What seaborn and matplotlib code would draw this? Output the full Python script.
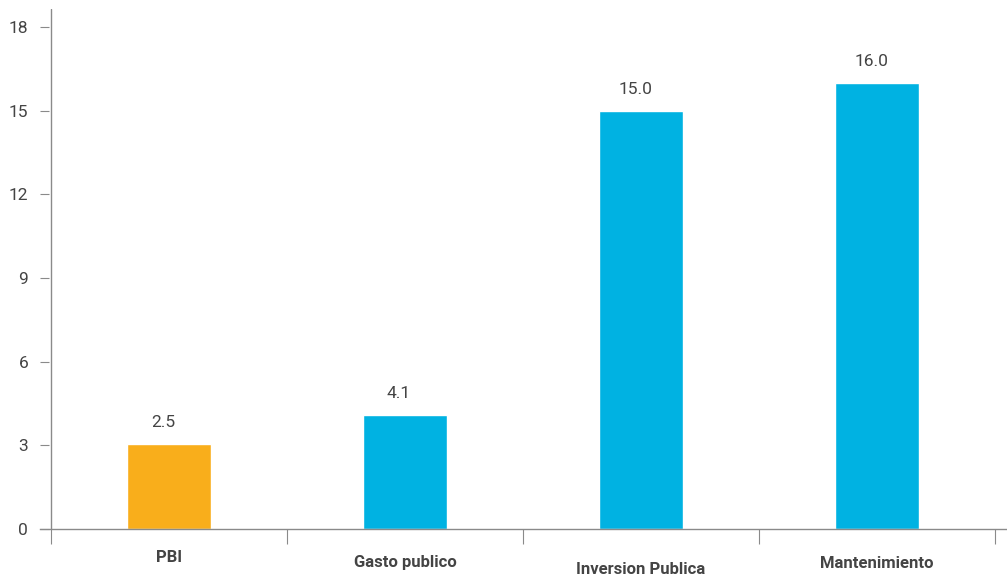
import matplotlib
matplotlib.use("Agg")
import matplotlib.pyplot as plt
import seaborn as sns
import pandas as pd

# data
categories = ["PBI", "Gasto publico", "Inversion Publica", "Mantenimiento"]
bar_values = [3.05, 4.1, 15.0, 16.0]
value_labels = ["2.5", "4.1", "15.0", "16.0"]
y_ticks = [0, 3, 6, 9, 12, 15, 18]

colors = ["#F9AE1B", "#00B2E2", "#00B2E2", "#00B2E2"]
text_color = "#444444"
axis_color = "#8a8a8a"

sns.set_theme(style="white")
plt.rcParams["font.family"] = ["Roboto", "DejaVu Sans"]

df = pd.DataFrame({"cat": categories, "val": bar_values})

fig = plt.figure(figsize=(10.07, 5.81), dpi=100)
ax = fig.add_axes([40 / 1007, 52 / 581, 967 / 1007, 520 / 581])

sns.barplot(data=df, x="cat", y="val", hue="cat", palette=colors,
            width=0.356, legend=False, ax=ax, saturation=1)

ax.set_xlim(-0.5 - 11 / 236, 3.5 + 12 / 236)
ax.set_ylim(0, 18.65)
ax.set_xlabel("")
ax.set_ylabel("")

for s in ["top", "right", "left"]:
    ax.spines[s].set_visible(False)
ax.spines["bottom"].set_color(axis_color)
ax.spines["bottom"].set_linewidth(1)

# y axis drawn at the first band edge
ax.axvline(-0.5, color=axis_color, lw=1, zorder=3)

ax.set_yticks(y_ticks)
ax.set_yticklabels([str(t) for t in y_ticks])
ax.tick_params(axis="y", direction="in", length=6.5, width=0.8,
               color=axis_color, pad=8.5, labelsize=12.5, labelcolor=text_color, left=True)

# x ticks on band edges, labels drawn as text
ax.set_xticks([i - 0.5 for i in range(len(categories) + 1)])
ax.set_xticklabels([])
ax.tick_params(axis="x", direction="out", length=11, width=0.8,
               color=axis_color, bottom=True)

label_dy = [28, 34, 40, 34]
for i, name in enumerate(categories):
    ax.annotate(name, xy=(i, 0), xycoords=("data", "axes fraction"),
                xytext=(0, -label_dy[i]), textcoords="offset pixels",
                ha="center", va="center", fontsize=12, fontweight="bold",
                color=text_color, annotation_clip=False)

for i, (v, lab) in enumerate(zip(bar_values, value_labels)):
    ax.annotate(lab, xy=(i, v), xytext=(-6, 21), textcoords="offset pixels",
                ha="center", va="center", fontsize=12.5, color=text_color)

fig.savefig("out.png", dpi=100, facecolor="white")
